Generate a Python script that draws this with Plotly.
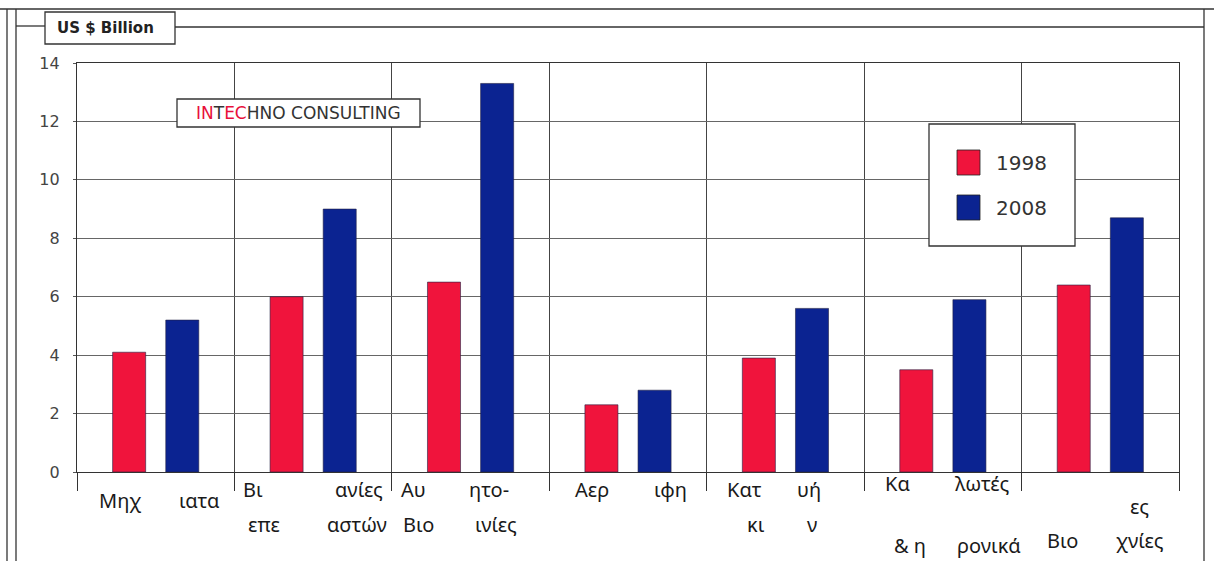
import plotly.graph_objects as go

# ---- data -------------------------------------------------------------
series_names = ["1998", "2008"]
values_1998 = [4.1, 6.0, 6.5, 2.3, 3.9, 3.5, 6.4]
values_2008 = [5.2, 9.0, 13.3, 2.8, 5.6, 5.9, 8.7]
y_ticks = [0, 2, 4, 6, 8, 10, 12, 14]

# visible category caption fragments, one list per category
category_labels = [
    ["Μηχ", "ιατα"],
    ["Βι", "επε", "ανίες", "αστών"],
    ["Αυ", "Βιο", "ητο-", "ινίες"],
    ["Αερ", "ιφη"],
    ["Κατ", "κι", "υή", "ν"],
    ["Κα", "& η", "λωτές", "ρονικά"],
    ["Βιο", "ες", "χνίες"],
]

# ---- layout helpers ---------------------------------------------------
W, H = 1214, 561
PL, PR, PT, PB = 77, 1179, 63, 472          # plot area in pixels
colors = ["#f0143c", "#0b2391"]


def px(x):
    return (x - PL) / (PR - PL)


def py(y):
    return (PB - y) / (PB - PT)


# caption fragment positions (x in axis units, y in pixels)
label_pos = [
    [(-0.23, 500), (0.28, 500)],
    [(0.62, 489), (0.69, 524), (1.29, 489), (1.28, 524)],
    [(1.64, 489), (1.67, 524), (2.12, 489), (2.16, 524)],
    [(2.77, 489), (3.27, 489)],
    [(3.74, 489), (3.81, 524), (4.15, 489), (4.17, 524)],
    [(4.71, 483), (4.79, 545), (5.25, 483), (5.29, 545)],
    [(5.76, 540), (6.25, 506), (6.25, 540)],
]

x_idx = list(range(len(values_1998)))

fig = go.Figure()
for name, vals, col in zip(series_names, [values_1998, values_2008], colors):
    fig.add_trace(go.Bar(
        x=x_idx, y=vals, name=name,
        marker=dict(color=col, line=dict(color="#222244", width=0.6)),
        showlegend=False,
    ))

annotations = []
for frags, poss in zip(category_labels, label_pos):
    for text, (xv, yv) in zip(frags, poss):
        annotations.append(dict(
            x=xv, xref="x", y=py(yv), yref="paper", text=text,
            showarrow=False, xanchor="center", yanchor="middle",
            font=dict(family="Noto Sans", size=20, color="#1a1a1a"),
        ))

shapes = []
line = dict(color="#333333", width=1.3)


def seg(x0, y0, x1, y1, ln=line):
    shapes.append(dict(type="line", xref="paper", yref="paper",
                       x0=px(x0), y0=py(y0), x1=px(x1), y1=py(y1), line=ln))


def box(x0, y0, x1, y1, ln=line):
    shapes.append(dict(type="rect", xref="paper", yref="paper",
                       x0=px(x0), y0=py(y0), x1=px(x1), y1=py(y1), line=ln,
                       fillcolor="white", layer="above"))


# outer frame
seg(0, 9, W, 9)
seg(7, 9, 7, H)
seg(16, 9, 16, H)
seg(1204, 9, 1204, H)
seg(16, 26, 45, 26)
seg(175, 27, 1204, 27)
box(45, 12, 175, 44)
annotations.append(dict(x=px(105), y=py(28), xref="paper", yref="paper",
                        xanchor="center", yanchor="middle",
                        text="<b>US $ Billion</b>", showarrow=False,
                        font=dict(family="DejaVu Sans", size=15, color="#222")))

# company tag
box(177, 99, 420, 127)
annotations.append(dict(
    x=px(298), y=py(113), xref="paper", yref="paper", showarrow=False,
    xanchor="center", yanchor="middle",
    text=("<span style='color:#e8103a'>IN</span>T"
          "<span style='color:#e8103a'>EC</span>HNO CONSULTING"),
    font=dict(family="DejaVu Sans", size=17, color="#333")))

# legend box
box(929, 124, 1075, 246)
for i, (name, col) in enumerate(zip(series_names, colors)):
    top = 150 + i * 45
    shapes.append(dict(type="rect", xref="paper", yref="paper",
                       x0=px(957), x1=px(980), y0=py(top), y1=py(top + 25),
                       fillcolor=col, line=dict(color="#222", width=0.8),
                       layer="above"))
    annotations.append(dict(x=px(994), y=py(top + 12.5), xref="paper",
                            yref="paper", text=name, showarrow=False,
                            xanchor="left", yanchor="middle",
                            font=dict(family="DejaVu Sans", size=20,
                                      color="#333")))

fig.update_layout(
    width=W, height=H,
    margin=dict(l=PL, r=W - PR, t=PT, b=H - PB, pad=0),
    paper_bgcolor="white", plot_bgcolor="white",
    barmode="group", bargap=0.325, bargroupgap=0.378,
    annotations=annotations, shapes=shapes,
    xaxis=dict(range=[-0.5, len(x_idx) - 0.5],
               tickvals=[i - 0.5 for i in range(len(x_idx) + 1)],
               showticklabels=False, ticks="outside", ticklen=18,
               tickcolor="#333", tickwidth=1.3,
               showgrid=True, gridcolor="#444", gridwidth=1,
               showline=True, linecolor="#333", linewidth=1.3, mirror=True,
               zeroline=False, fixedrange=True),
    yaxis=dict(range=[0, 14], tickvals=y_ticks, ticks="outside", ticklen=3,
               tickcolor="#555", ticklabelstandoff=10,
               tickfont=dict(family="DejaVu Sans", size=16, color="#444"),
               showgrid=True, gridcolor="#666", gridwidth=1,
               showline=True, linecolor="#333", linewidth=1.3, mirror=True,
               zeroline=False, fixedrange=True),
    showlegend=False,
)

fig.write_html("out.html")
